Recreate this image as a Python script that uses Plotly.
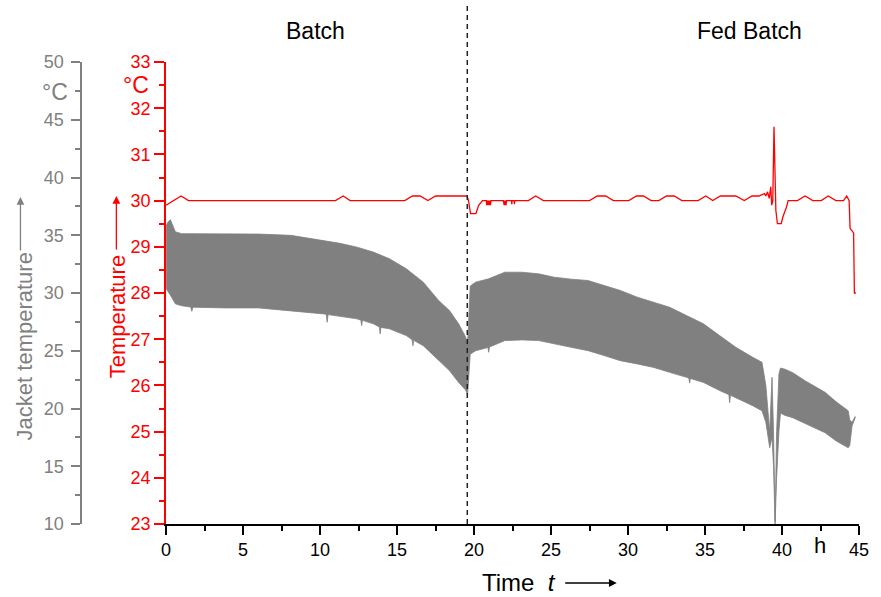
import plotly.graph_objects as go

# ---------------- data ----------------
# Jacket temperature: the fast oscillation drawn as its band (upper / lower edge), degC
jacket_upper_edge = [
    (0.0, 35.8), (0.1, 36.1), (0.28, 36.35), (0.6, 35.3), (1.0, 35.14), (1.67, 35.14),
    (3.8, 35.14), (6.0, 35.1), (8.1, 34.99), (10.24, 34.55), (11.3, 34.3), (12.4, 33.97),
    (13.46, 33.54), (14.5, 32.97), (15.6, 32.1), (16.7, 30.94), (17.7, 29.35),
    (18.4, 28.48), (19.0, 27.33), (19.45, 26.2), (19.58, 25.6),
    (19.68, 28.5), (19.75, 30.6), (20.1, 30.94), (20.95, 31.23), (22.0, 31.8),
    (23.1, 31.8), (24.2, 31.66), (25.2, 31.37), (26.3, 31.2), (27.4, 31.08),
    (28.45, 30.65), (29.5, 30.22), (30.6, 29.64), (31.66, 29.2), (32.7, 28.77),
    (33.8, 28.05), (34.9, 27.33), (35.95, 26.31), (37.0, 25.3), (38.1, 24.43),
    (38.7, 24.0), (38.95, 22.0), (39.2, 18.0), (39.35, 22.7), (39.45, 18.0),
    (39.55, 10.2), (39.65, 18.0), (39.8, 23.0), (39.9, 23.5), (40.2, 23.4),
    (40.7, 23.1), (41.5, 22.4), (42.8, 21.4), (43.5, 20.6), (44.3, 19.8),
    (44.4, 19.0), (44.55, 18.8), (44.75, 19.3)]
jacket_lower_edge = [
    (0.0, 30.4), (0.1, 30.2), (0.28, 29.8), (0.6, 29.06), (1.0, 28.9), (1.6, 28.78),
    (1.67, 28.42), (1.74, 28.77), (3.8, 28.71), (6.0, 28.71), (8.1, 28.48),
    (10.24, 28.19), (10.4, 28.15), (10.46, 27.47), (10.52, 28.13), (11.3, 27.98),
    (12.4, 27.76), (12.65, 27.65), (12.7, 27.18), (12.75, 27.63), (13.46, 27.33),
    (13.85, 27.05), (13.9, 26.46), (13.95, 27.02), (14.5, 26.9), (15.6, 26.31),
    (15.98, 25.95), (16.03, 25.44), (16.08, 25.9), (16.7, 25.44), (17.7, 24.14),
    (18.4, 23.28), (19.0, 22.26), (19.45, 21.6), (19.58, 21.2),
    (19.68, 23.5), (19.75, 24.7), (20.1, 25.0), (20.9, 25.28), (20.95, 24.87),
    (21.0, 25.32), (22.0, 25.88), (23.1, 25.94), (24.2, 25.88), (25.2, 25.59),
    (26.3, 25.3), (27.4, 25.01), (28.45, 24.58), (29.5, 24.14), (30.6, 23.86),
    (31.66, 23.56), (32.7, 23.13), (33.8, 22.7), (33.95, 22.62), (34.0, 22.2),
    (34.05, 22.6), (34.9, 22.26), (35.95, 21.55), (36.55, 21.2), (36.6, 20.5),
    (36.65, 21.15), (37.0, 20.96), (38.1, 20.24), (38.7, 19.8), (38.95, 18.8),
    (39.2, 16.6), (39.35, 17.5), (39.45, 15.0), (39.55, 10.0), (39.65, 14.0),
    (39.8, 18.0), (39.9, 19.6), (40.2, 19.4), (40.7, 19.2), (41.5, 18.7),
    (42.8, 17.9), (43.5, 17.2), (44.3, 16.6), (44.4, 16.8), (44.55, 18.5),
    (44.75, 19.2)]

# Reactor temperature, degC
temp_t = [0.0, 0.5, 0.97, 1.45, 11.0, 11.5, 11.95, 15.5, 16.0, 16.5, 17.0, 17.5,
          19.55, 19.65, 19.77, 20.12, 20.3, 20.55,
          20.8, 20.82, 20.84, 20.86, 20.88, 20.9, 20.92, 20.94, 20.96, 20.98, 21.0,
          21.02, 21.04, 21.06, 21.08, 21.1,
          21.9, 21.92, 21.94, 21.96, 21.98, 22.0, 22.02, 22.04, 22.06, 22.08, 22.1,
          22.43, 22.45, 22.47, 22.6, 22.62, 22.64,
          23.53, 24.0, 24.5, 27.5, 28.0, 28.55, 29.05, 30.05, 30.55, 31.0, 31.5,
          32.0, 32.5, 33.0, 33.5, 34.55, 35.05, 35.5, 36.0, 37.0, 37.55, 38.05,
          38.5, 38.85, 38.95, 39.06, 39.17, 39.27, 39.33, 39.4, 39.48, 39.55, 39.6,
          39.7, 39.95, 40.06, 40.18, 40.28, 40.4, 41.0, 41.5, 42.0, 42.55, 43.0,
          43.5, 44.0, 44.2, 44.36, 44.42, 44.65, 44.7, 44.8]
temp_val = [29.9, 30.0, 30.1, 30.0, 30.0, 30.1, 30.0, 30.0, 30.1, 30.1, 30.0, 30.1,
            30.1, 29.98, 29.72, 29.72, 29.9, 30.0,
            30.0, 29.9, 30.0, 29.9, 30.0, 29.9, 30.0, 29.9, 30.0, 29.9, 30.0,
            29.9, 30.0, 29.9, 30.0, 30.0,
            30.0, 29.9, 30.0, 29.9, 30.0, 29.9, 30.0, 29.9, 30.0, 29.9, 30.0,
            30.0, 29.92, 30.0, 30.0, 29.92, 30.0,
            30.0, 30.1, 30.0, 30.0, 30.1, 30.1, 30.0, 30.0, 30.1, 30.1, 30.0,
            30.0, 30.1, 30.1, 30.0, 30.0, 30.1, 30.0, 30.1, 30.1, 30.0, 30.1,
            30.1, 30.15, 30.1, 30.19, 30.05, 30.3, 29.9, 30.0, 31.6, 29.85, 29.79,
            29.5, 29.5, 29.65, 29.75, 29.85, 30.0, 30.0, 30.1, 30.0, 30.0, 30.1,
            30.0, 30.0, 30.1, 30.0, 29.4, 29.3, 28.0, 28.0]

x_ticks = [0, 5, 10, 15, 20, 25, 30, 35, 40, 45]
phase_switch = 19.56
phase_labels = ["Batch", "Fed Batch"]
phase_label_t = [9.7, 37.9]

# ---------------- layout geometry ----------------
W, H = 881, 597
ML, MR, MT, MB = 60, 13, 62, 73
PW, PH = W - ML - MR, H - MT - MB
def px_x(px):
    return (px - ML) / PW
def px_y(py):
    return (H - MB - py) / PH

FONT = "Arial, Liberation Sans, sans-serif"
RED = "#ff0000"
GREY = "#808080"

band_x = [p[0] for p in jacket_upper_edge] + [p[0] for p in reversed(jacket_lower_edge)]
band_y = [p[1] for p in jacket_upper_edge] + [p[1] for p in reversed(jacket_lower_edge)]

fig = go.Figure()
fig.add_trace(go.Scatter(x=band_x, y=band_y, yaxis="y2", mode="lines",
                         line=dict(color=GREY, width=0.8), fill="toself",
                         fillcolor=GREY, showlegend=False, hoverinfo="skip"))
fig.add_trace(go.Scatter(x=temp_t, y=temp_val, yaxis="y", mode="lines",
                         line=dict(color=RED, width=1.3), showlegend=False))

x0d = px_x(167.3)
fig.update_layout(
    width=W, height=H, margin=dict(l=ML, r=MR, t=MT, b=MB),
    paper_bgcolor="white", plot_bgcolor="white",
    font=dict(family=FONT),
    xaxis=dict(domain=[x0d, 1], range=[0, 45], tickvals=x_ticks,
               ticktext=[str(v) for v in x_ticks],
               ticks="outside", ticklen=9, tickwidth=1.5, tickcolor="black",
               showline=True, linecolor="black", linewidth=1.5,
               showgrid=False, zeroline=False,
               tickfont=dict(size=18, color="black", family=FONT),
               minor=dict(dtick=2.5, ticks="outside", ticklen=5, tickwidth=1.5,
                          tickcolor="black")),
    yaxis=dict(range=[23, 33], dtick=1, ticks="outside", ticklen=10, tickwidth=2,
               tickcolor=RED, showline=True, linecolor=RED, linewidth=2,
               showgrid=False, zeroline=False,
               tickfont=dict(size=18, color=RED, family=FONT),
               minor=dict(dtick=0.5, ticks="outside", ticklen=5, tickwidth=2,
                          tickcolor=RED)),
    yaxis2=dict(range=[10, 50], dtick=5, overlaying="y", anchor="free",
                position=px_x(81.7), side="left",
                ticks="outside", ticklen=9, tickwidth=2, tickcolor=GREY,
                showline=True, linecolor=GREY, linewidth=2,
                showgrid=False, zeroline=False, ticklabelstandoff=4,
                tickfont=dict(size=18, color=GREY, family=FONT),
                minor=dict(dtick=2.5, ticks="outside", ticklen=5, tickwidth=2,
                           tickcolor=GREY)),
)

# dashed phase separator
fig.add_shape(type="line", xref="x", yref="paper", x0=phase_switch, x1=phase_switch,
              y0=0, y1=px_y(4), line=dict(color="#222222", width=1.5, dash="5px,4px"))

def text_ann(px, py, text, size, color, angle=0):
    return dict(x=px_x(px), y=px_y(py), xref="paper", yref="paper", text=text,
                xanchor="center", yanchor="middle", textangle=angle,
                showarrow=False, font=dict(size=size, color=color, family=FONT))

def arrow_ann(px, py, ax, ay, color):
    return dict(x=px_x(px), y=px_y(py), xref="paper", yref="paper", text="",
                showarrow=True, ax=ax, ay=ay, arrowhead=2, arrowsize=1.2,
                arrowwidth=1.3, arrowcolor=color)

ann = []
for lab, tt in zip(phase_labels, phase_label_t):
    ann.append(dict(x=tt, y=px_y(31), xref="x", yref="paper", text=lab,
                    xanchor="center", yanchor="middle",
                    showarrow=False, font=dict(size=23, color="black", family=FONT)))
ann.append(text_ann(828.5, 545, "h", 22, "black"))
ann.append(text_ann(137, 85, "°C", 23, RED))
ann.append(text_ann(55, 92, "°C", 23, GREY))
ann.append(text_ann(524, 582, "Time&nbsp; <i>t</i>", 24, "black"))
ann.append(arrow_ann(623, 583, -53, 0, "black"))
ann.append(text_ann(118, 316, "Temperature", 22, RED, -90))
ann.append(arrow_ann(117, 196, 0, 55, RED))
ann.append(text_ann(24, 346, "Jacket temperature", 22, GREY, -90))
ann.append(arrow_ann(20, 197, 0, 55, GREY))
fig.update_layout(annotations=ann)

fig.write_html("out.html")
